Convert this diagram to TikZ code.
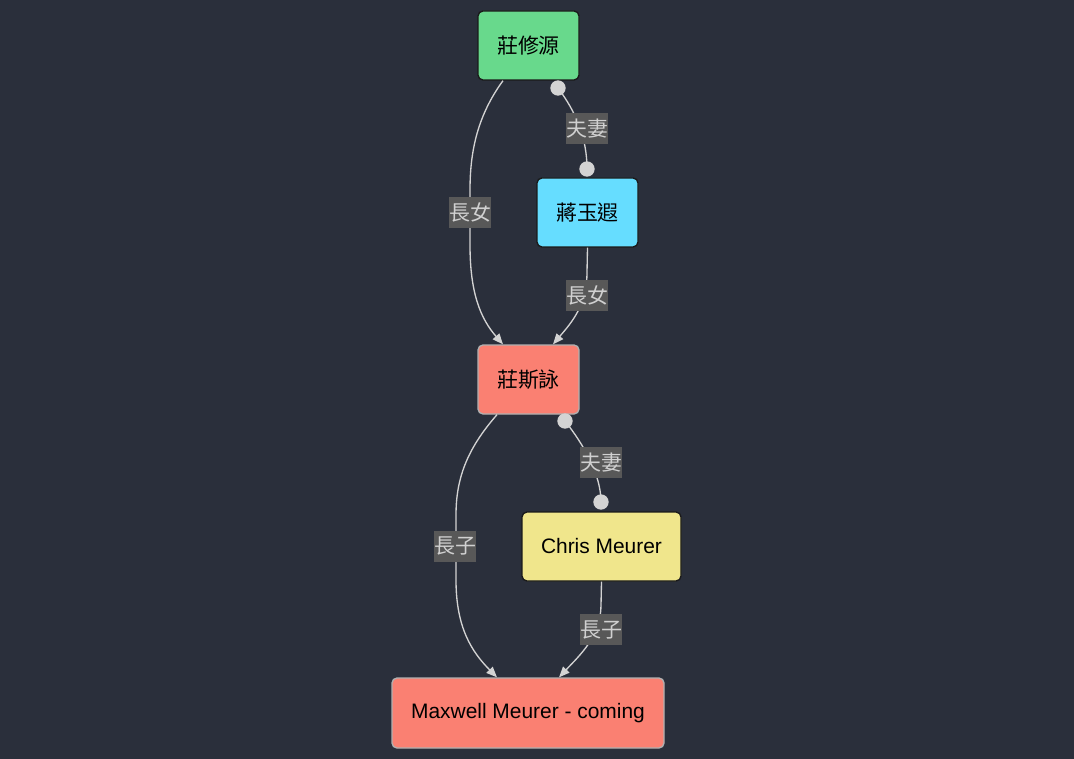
\documentclass[tikz,border=0pt]{standalone}
\usepackage{fontspec}
\setmainfont{Liberation Sans}
\newfontfamily\cjk{Noto Sans CJK TC}
\usetikzlibrary{arrows.meta,calc}
\definecolor{bg}{HTML}{2A2F3B}
\definecolor{edgecol}{HTML}{D3D3D3}
\definecolor{lblbg}{HTML}{585858}
\definecolor{lbltext}{HTML}{D0D0D0}
\definecolor{green}{HTML}{68D98C}
\definecolor{cyan}{HTML}{66DDFF}
\definecolor{salmon}{HTML}{FA8072}
\definecolor{khaki}{HTML}{F0E68C}
\definecolor{darkbd}{HTML}{1A1A1A}
\definecolor{lightbd}{HTML}{B0B0B0}
\begin{document}
\begin{tikzpicture}[x=0.75pt,y=-0.75pt,
  person/.style={rounded corners=3.75pt, line width=1pt, minimum height=51.75pt,
    font=\fontsize{15.7}{18}\selectfont, text=black, inner sep=0pt},
  cjkperson/.style={person, font=\cjk\fontsize{15.7}{18}\selectfont},
  edgelbl/.style={fill=lblbg, text=lbltext, font=\cjk\fontsize{15.7}{18}\selectfont,
    inner xsep=0.4pt, inner ysep=0pt, minimum height=23.25pt},
  link/.style={draw=edgecol, line width=1pt},
  arr/.style={link, -{Triangle[length=8pt,width=6.5pt]}},
  dot/.style={circle, fill=edgecol, inner sep=0pt, minimum size=11.5pt},
]
\fill[bg] (0,0) rectangle (1074,759);
\useasboundingbox (0,0) rectangle (1074,759);

% nodes
\node[cjkperson, draw=darkbd, fill=green, minimum width=75.75pt] (n1) at (528.5,45.5) {莊修源};
\node[cjkperson, draw=darkbd, fill=cyan, minimum width=75.75pt] (n2) at (587.5,212.5) {蔣玉遐};
\node[cjkperson, draw=lightbd, fill=salmon, minimum width=75.75pt] (n3) at (528.5,379.5) {莊斯詠};
\node[person, draw=darkbd, fill=khaki, minimum width=119.25pt] (n4) at (601.5,546.5) {Chris Meurer};
\node[person, draw=lightbd, fill=salmon, minimum width=204pt, minimum height=52.5pt] (n5) at (528,713) {Maxwell Meurer - coming};

% marriage end points
\coordinate (d1) at (558,88);
\coordinate (d2) at (587,169);
\coordinate (d3) at (565,421);
\coordinate (d4) at (601,502);

% edges
\draw[arr] ($(n1.south)+(-25.5,0)$) .. controls (478,115) and (470,150) .. (470,190)
  -- (470,245) .. controls (470,292) and (480,318) .. ($(n3.north)+(-25.5,0)$);
\draw[link] (d1) .. controls (576,112) and (587,138) .. (d2);
\draw[arr] (n2.south) -- (587,272) .. controls (587,305) and (572,322) .. ($(n3.north)+(24.5,0)$);
\draw[link] (d3) .. controls (584,445) and (601,475) .. (d4);
\draw[arr] ($(n3.south)+(-31.5,0)$) .. controls (466,450) and (456,480) .. (456,515)
  -- (456,580) .. controls (456,628) and (472,652) .. ($(n5.north)+(-31,0)$);
\draw[arr] (n4.south) -- (601,605) .. controls (601,636) and (580,655) .. ($(n5.north)+(31,0)$);

% dots
\node[dot] (o1) at (d1) {};
\node[dot] (o2) at (d2) {};
\node[dot] (o3) at (d3) {};
\node[dot] (o4) at (d4) {};

% labels
\node[edgelbl] (l1) at (470,212.5) {長女};
\node[edgelbl] (l2) at (587,128.5) {夫妻};
\node[edgelbl] (l3) at (587,295.5) {長女};
\node[edgelbl] (l4) at (601,462.5) {夫妻};
\node[edgelbl] (l5) at (455,546) {長子};
\node[edgelbl] (l6) at (601,629.5) {長子};
\end{tikzpicture}
\end{document}
